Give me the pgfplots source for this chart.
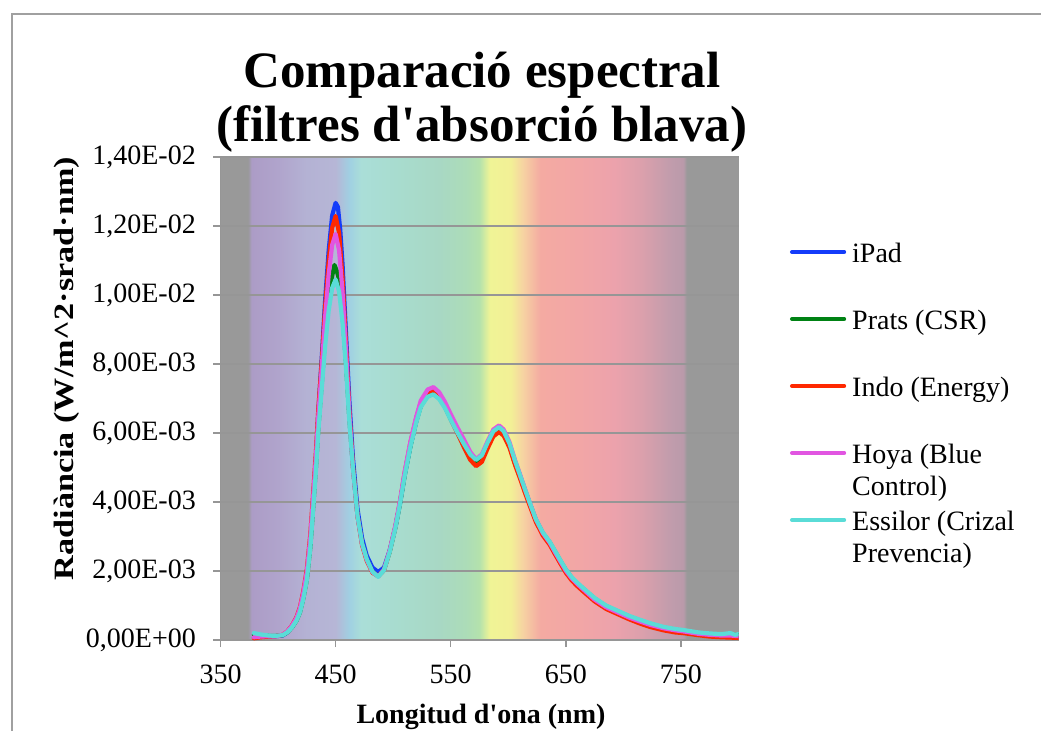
\documentclass[border=0pt]{standalone}
\usepackage{fontspec}
\setmainfont{Liberation Serif}
\usepackage{graphicx}
\usepackage{pgfplots}
\usepackage{pgfplotstable}
\pgfplotsset{compat=1.18}

\definecolor{gridgray}{RGB}{150,150,150}
\definecolor{framegray}{RGB}{160,160,160}
\definecolor{sg}{RGB}{153,153,153}
\definecolor{s1}{RGB}{172,156,198}
\definecolor{s2}{RGB}{176,164,204}
\definecolor{s3}{RGB}{180,178,212}
\definecolor{s4}{RGB}{182,182,214}
\definecolor{s5}{RGB}{160,208,226}
\definecolor{s6}{RGB}{170,222,216}
\definecolor{s7}{RGB}{168,220,206}
\definecolor{s8}{RGB}{168,216,196}
\definecolor{s9}{RGB}{172,220,184}
\definecolor{s10}{RGB}{180,226,172}
\definecolor{s11}{RGB}{240,244,150}
\definecolor{s12}{RGB}{242,240,150}
\definecolor{s13}{RGB}{246,210,162}
\definecolor{s14}{RGB}{244,170,162}
\definecolor{s15}{RGB}{242,166,166}
\definecolor{s16}{RGB}{236,162,172}
\definecolor{s17}{RGB}{220,160,172}
\definecolor{s18}{RGB}{192,156,172}
\definecolor{s19}{RGB}{186,154,170}
\pgfdeclarehorizontalshading{spectrum}{100bp}{color(0bp)=(sg); color(25bp)=(sg); color(27.667bp)=(sg); color(28bp)=(s1); color(30.556bp)=(s2); color(33.333bp)=(s3); color(36.111bp)=(s4); color(37.444bp)=(s5); color(38.556bp)=(s6); color(42.222bp)=(s7); color(46.111bp)=(s8); color(48.667bp)=(s9); color(50bp)=(s10); color(51bp)=(s11); color(53bp)=(s12); color(54.222bp)=(s13); color(55.889bp)=(s14); color(59.667bp)=(s15); color(63bp)=(s16); color(65.556bp)=(s17); color(68.556bp)=(s18); color(69.667bp)=(s19); color(70bp)=(sg); color(75bp)=(sg); color(100bp)=(sg)}

\definecolor{cipad}{RGB}{20,60,250}
\definecolor{cprats}{RGB}{0,130,20}
\definecolor{cindo}{RGB}{255,40,0}
\definecolor{choya}{RGB}{225,85,225}
\definecolor{cessilor}{RGB}{90,220,215}

\pgfplotstableread{
x y
379 0.07e-3
385 0.10e-3
392 0.11e-3
398 0.11e-3
404 0.13e-3
408 0.22e-3
412 0.37e-3
416 0.58e-3
419 0.84e-3
422 1.27e-3
425 1.85e-3
428 2.80e-3
430 3.80e-3
433 5.30e-3
435 6.60e-3
438 8.20e-3
441 9.90e-3
444 11.30e-3
447 12.30e-3
450 12.67e-3
452 12.55e-3
454 11.90e-3
456 10.90e-3
459 8.90e-3
462 6.90e-3
465 5.30e-3
469 3.80e-3
473 2.95e-3
477 2.45e-3
482 2.10e-3
487 1.97e-3
492 2.10e-3
497 2.60e-3
502 3.28e-3
506 3.97e-3
510 4.78e-3
515 5.63e-3
520 6.34e-3
524 6.80e-3
530 7.12e-3
535 7.20e-3
540 7.05e-3
545 6.78e-3
550 6.40e-3
556 6.00e-3
562 5.62e-3
567 5.30e-3
572 5.12e-3
577 5.25e-3
582 5.62e-3
587 5.97e-3
592 6.08e-3
596 5.97e-3
601 5.62e-3
606 5.10e-3
610 4.75e-3
615 4.28e-3
619 3.92e-3
624 3.47e-3
630 3.08e-3
636 2.80e-3
640 2.57e-3
645 2.28e-3
650 2.00e-3
655 1.78e-3
660 1.61e-3
665 1.46e-3
675 1.17e-3
685 0.95e-3
695 0.80e-3
705 0.65e-3
715 0.53e-3
723 0.44e-3
735 0.33e-3
745 0.27e-3
752 0.24e-3
765 0.17e-3
775 0.14e-3
785 0.12e-3
793 0.12e-3
800 0.10e-3
}\ipad

\pgfplotstableread{
x y
379 0.15e-3
385 0.13e-3
392 0.12e-3
398 0.12e-3
404 0.14e-3
408 0.22e-3
412 0.36e-3
416 0.56e-3
419 0.80e-3
422 1.21e-3
425 1.75e-3
428 2.68e-3
430 3.60e-3
433 5.05e-3
435 6.15e-3
438 7.45e-3
441 8.85e-3
444 9.90e-3
447 10.55e-3
449 10.87e-3
451 10.70e-3
453 10.45e-3
456 9.45e-3
459 8.05e-3
462 6.40e-3
465 5.05e-3
469 3.62e-3
473 2.80e-3
477 2.35e-3
482 1.98e-3
487 1.85e-3
492 2.03e-3
497 2.56e-3
502 3.27e-3
506 3.97e-3
510 4.77e-3
515 5.62e-3
520 6.33e-3
524 6.78e-3
530 7.10e-3
535 7.18e-3
540 7.03e-3
545 6.76e-3
550 6.42e-3
556 6.03e-3
562 5.66e-3
567 5.36e-3
572 5.18e-3
577 5.31e-3
582 5.68e-3
587 6.02e-3
592 6.13e-3
596 6.02e-3
601 5.67e-3
606 5.15e-3
610 4.78e-3
615 4.30e-3
619 3.93e-3
624 3.48e-3
630 3.10e-3
636 2.83e-3
640 2.60e-3
645 2.31e-3
650 2.03e-3
655 1.81e-3
660 1.64e-3
665 1.49e-3
675 1.20e-3
685 0.98e-3
695 0.83e-3
705 0.68e-3
715 0.56e-3
723 0.47e-3
735 0.36e-3
745 0.30e-3
752 0.27e-3
765 0.20e-3
775 0.17e-3
785 0.15e-3
793 0.16e-3
800 0.14e-3
}\prats

\pgfplotstableread{
x y
379 0.05e-3
385 0.08e-3
392 0.10e-3
398 0.11e-3
404 0.15e-3
408 0.25e-3
412 0.42e-3
416 0.66e-3
419 0.95e-3
422 1.42e-3
425 2.05e-3
428 3.05e-3
430 4.00e-3
433 5.50e-3
435 6.70e-3
438 8.10e-3
441 9.70e-3
444 11.00e-3
447 11.95e-3
450 12.29e-3
453 11.80e-3
456 10.50e-3
459 8.60e-3
462 6.60e-3
465 5.05e-3
469 3.60e-3
473 2.75e-3
477 2.30e-3
482 1.95e-3
487 1.85e-3
492 2.02e-3
497 2.58e-3
502 3.30e-3
506 4.02e-3
510 4.85e-3
515 5.72e-3
520 6.42e-3
524 6.88e-3
530 7.18e-3
535 7.25e-3
540 7.08e-3
545 6.78e-3
550 6.40e-3
556 5.98e-3
562 5.55e-3
567 5.22e-3
572 5.04e-3
577 5.16e-3
582 5.55e-3
587 5.90e-3
592 6.03e-3
596 5.92e-3
601 5.58e-3
606 5.06e-3
610 4.70e-3
615 4.22e-3
619 3.86e-3
624 3.42e-3
630 3.03e-3
636 2.76e-3
640 2.52e-3
645 2.23e-3
650 1.95e-3
655 1.73e-3
660 1.56e-3
665 1.41e-3
675 1.12e-3
685 0.90e-3
695 0.75e-3
705 0.60e-3
715 0.47e-3
723 0.38e-3
735 0.28e-3
745 0.22e-3
752 0.20e-3
765 0.14e-3
775 0.10e-3
785 0.08e-3
793 0.07e-3
800 0.06e-3
}\indo

\pgfplotstableread{
x y
379 0.08e-3
385 0.10e-3
392 0.11e-3
398 0.11e-3
404 0.15e-3
408 0.25e-3
412 0.41e-3
416 0.64e-3
419 0.92e-3
422 1.38e-3
425 1.98e-3
428 2.95e-3
430 3.90e-3
433 5.35e-3
435 6.50e-3
438 7.90e-3
441 9.40e-3
444 10.60e-3
447 11.45e-3
450 11.77e-3
453 11.30e-3
456 10.10e-3
459 8.40e-3
462 6.50e-3
465 5.00e-3
469 3.60e-3
473 2.78e-3
477 2.33e-3
482 1.97e-3
487 1.84e-3
492 2.04e-3
497 2.60e-3
502 3.33e-3
506 4.05e-3
510 4.88e-3
515 5.75e-3
520 6.47e-3
524 6.94e-3
530 7.26e-3
535 7.33e-3
540 7.18e-3
545 6.90e-3
550 6.55e-3
556 6.15e-3
562 5.78e-3
567 5.45e-3
572 5.24e-3
577 5.38e-3
582 5.76e-3
587 6.10e-3
592 6.22e-3
596 6.10e-3
601 5.74e-3
606 5.20e-3
610 4.82e-3
615 4.33e-3
619 3.95e-3
624 3.50e-3
630 3.10e-3
636 2.82e-3
640 2.58e-3
645 2.29e-3
650 2.01e-3
655 1.79e-3
660 1.62e-3
665 1.47e-3
675 1.17e-3
685 0.95e-3
695 0.80e-3
705 0.65e-3
715 0.53e-3
723 0.44e-3
735 0.34e-3
745 0.28e-3
752 0.25e-3
765 0.18e-3
775 0.15e-3
785 0.13e-3
793 0.13e-3
800 0.11e-3
}\hoya

\pgfplotstableread{
x y
379 0.20e-3
385 0.16e-3
392 0.13e-3
398 0.12e-3
404 0.14e-3
408 0.22e-3
412 0.36e-3
416 0.56e-3
419 0.80e-3
422 1.20e-3
425 1.74e-3
428 2.65e-3
430 3.55e-3
433 4.95e-3
435 6.05e-3
438 7.30e-3
441 8.55e-3
444 9.55e-3
447 10.20e-3
450 10.45e-3
453 10.10e-3
456 9.20e-3
459 7.90e-3
462 6.30e-3
465 5.00e-3
469 3.60e-3
473 2.80e-3
477 2.35e-3
482 1.98e-3
487 1.83e-3
492 2.02e-3
497 2.55e-3
502 3.25e-3
506 3.95e-3
510 4.75e-3
515 5.60e-3
520 6.30e-3
524 6.75e-3
530 7.05e-3
535 7.12e-3
540 6.98e-3
545 6.72e-3
550 6.38e-3
556 6.00e-3
562 5.65e-3
567 5.38e-3
572 5.22e-3
577 5.35e-3
582 5.72e-3
587 6.05e-3
592 6.17e-3
596 6.05e-3
601 5.70e-3
606 5.18e-3
610 4.80e-3
615 4.32e-3
619 3.95e-3
624 3.50e-3
630 3.12e-3
636 2.85e-3
640 2.62e-3
645 2.33e-3
650 2.05e-3
655 1.83e-3
660 1.66e-3
665 1.51e-3
675 1.22e-3
685 1.00e-3
695 0.85e-3
705 0.70e-3
715 0.58e-3
723 0.49e-3
735 0.38e-3
745 0.32e-3
752 0.29e-3
765 0.22e-3
775 0.19e-3
785 0.17e-3
793 0.20e-3
797 0.15e-3
800 0.17e-3
}\essilor

\begin{document}
\begin{tikzpicture}
\draw[framegray, line width=2pt] (11.5pt,0pt) -- (11.5pt,716.5pt) -- (1045pt,716.5pt);
\node[anchor=base, inner sep=0pt, font=\fontsize{51}{55}\selectfont\bfseries] at (482pt,643pt) {Comparació espectral};
\node[anchor=base, inner sep=0pt, font=\fontsize{51}{55}\selectfont\bfseries] at (482pt,589pt) {(filtres d\textquotesingle absorció blava)};
\begin{axis}[
  at={(220.5pt,91pt)}, anchor=south west,
  scale only axis, width=518pt, height=483pt,
  xmin=350, xmax=800, ymin=0, ymax=0.014,
  axis background/.style={shade, shading=spectrum},
  axis x line*=bottom, axis y line*=left,
  axis line style={draw=gridgray, line width=1.5pt, -},
  xtick={350,450,550,650,750}, xticklabels={350,450,550,650,750},
  ytick={0,0.002,0.004,0.006,0.008,0.01,0.012,0.014},
  yticklabels={{0,00E+00},{2,00E-03},{4,00E-03},{6,00E-03},{8,00E-03},{1,00E-02},{1,20E-02},{1,40E-02}},
  scaled y ticks=false, scaled x ticks=false,
  tick align=outside, major tick length=7pt,
  tick style={draw=gridgray, line width=1.5pt},
  ymajorgrids, grid style={draw=gridgray, line width=1.5pt},
  tick label style={font=\fontsize{28}{32}\selectfont, inner sep=0pt},
  yticklabel style={anchor=east, xshift=-17.5pt},
  xticklabel style={anchor=base, yshift=-36pt},
  xlabel={Longitud d\textquotesingle ona (nm)},
  ylabel={\scalebox{1.22}[1]{Radiància (W/m\textasciicircum 2·srad·nm)}},
  xlabel style={at={(axis description cs:0.5029,-0.1739)}, anchor=base, inner sep=0pt, font=\fontsize{28}{32}\selectfont\bfseries},
  ylabel style={at={(axis description cs:-0.2847,0.5621)}, anchor=base, inner sep=0pt, font=\fontsize{28}{32}\selectfont\bfseries},
  legend style={at={(axis description cs:1.0994,0.8261)}, anchor=north west, draw=none, fill=none, inner sep=0pt, outer sep=0pt, row sep=3pt, column sep=6pt, font=\fontsize{28}{32}\selectfont, nodes={inner sep=0pt, text height=22pt, text depth=42pt, anchor=base west}},
  legend image code/.code={\draw[#1, line cap=round] (0pt,11pt) -- (52pt,11pt);},
  every axis plot/.append style={line width=4.2pt, line join=round, line cap=round, no markers},
]
\addplot[color=cipad] table[x=x,y=y] {\ipad};
\addlegendentry{iPad}
\addplot[color=cprats] table[x=x,y=y] {\prats};
\addlegendentry{Prats (CSR)}
\addplot[color=cindo] table[x=x,y=y] {\indo};
\addlegendentry{Indo (Energy)}
\addplot[color=choya] table[x=x,y=y] {\hoya};
\addlegendentry{\begin{tabular}[t]{@{}l@{}}Hoya (Blue\\Control)\end{tabular}}
\addplot[color=cessilor] table[x=x,y=y] {\essilor};
\addlegendentry{\begin{tabular}[t]{@{}l@{}}Essilor (Crizal\\Prevencia)\end{tabular}}
\end{axis}
\pgfresetboundingbox
\useasboundingbox (0pt,0pt) rectangle (1041pt,731pt);
\end{tikzpicture}
\end{document}
